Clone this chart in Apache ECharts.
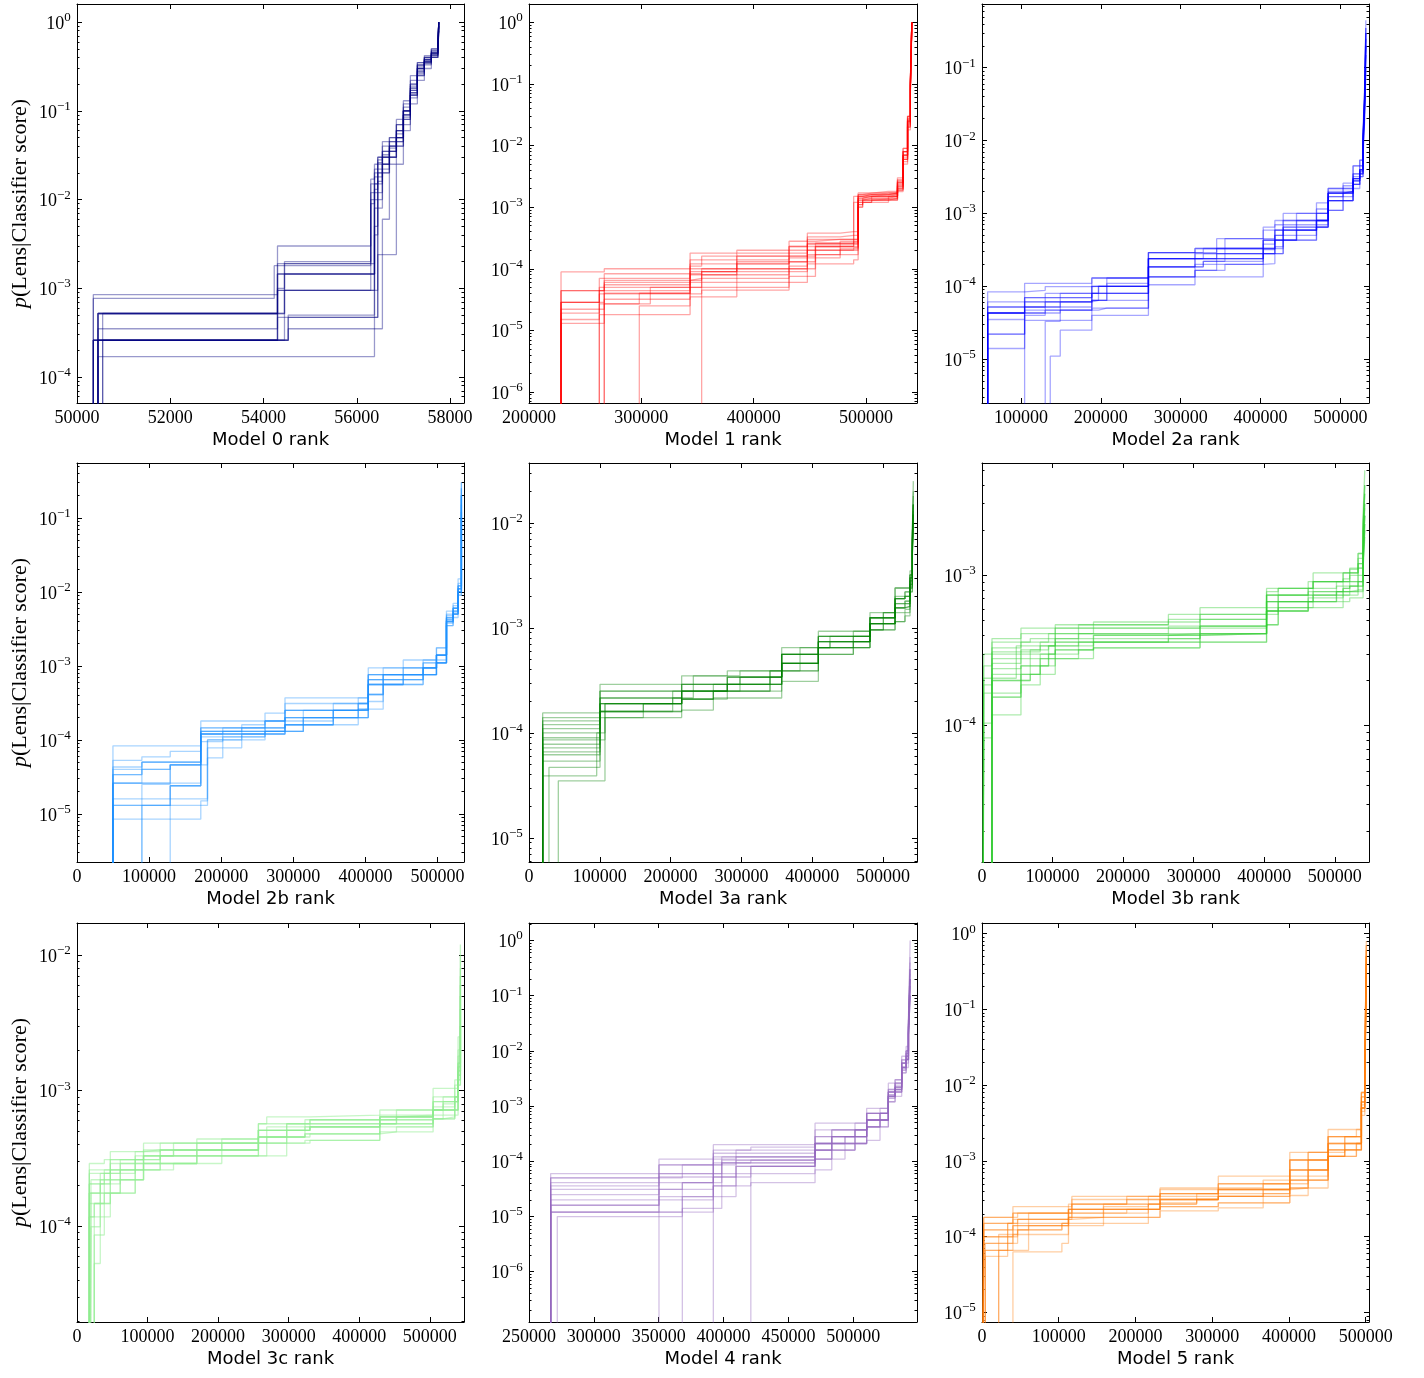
<!DOCTYPE html>
<html><head><meta charset="utf-8">
<script src="https://cdn.jsdelivr.net/npm/echarts@6/dist/echarts.min.js"></script>
<style>html,body{margin:0;padding:0;background:#fff}#c{width:1424px;height:1378px}</style>
</head><body><div id="c"></div>
<script>
// ---------------- DATA ----------------
const panelTitles = ['Model 0 rank','Model 1 rank','Model 2a rank','Model 2b rank','Model 3a rank','Model 3b rank','Model 3c rank','Model 4 rank','Model 5 rank'];
const panelColors = ['#000080','#ff0000','#0000ff','#1e90ff','#008000','#32cd32','#90ee90','#9467bd','#ff7f0e'];
const xRanges = [[50000,58300],[200000,545400],[51250,535750],[0,536800],[0,548000],[0,548500],[0,548500],[250000,549100],[0,504300]];
const yRanges = [[5.1e-5,1.6],[6.6e-7,2.0],[2.5e-6,0.75],[2.24e-6,0.55],[5.9e-6,0.0372],[1.24e-5,5.6e-3],[1.96e-5,0.0173],[1.23e-7,2.07],[7.5e-6,1.38]];
const xTicks0 = [50000,52000,54000,56000,58000];
const xTicks1 = [200000,300000,400000,500000];
const xTicks2a = [100000,200000,300000,400000,500000];
const xTicksZero = [0,100000,200000,300000,400000,500000];
const xTicks4 = [250000,300000,350000,400000,450000,500000];

// Model 0
const m0Ranks = [50250,50350,50450,50550,54230,54300,54450,54530,56300,56380,56450,56550,56700,56850,57000,57150,57300,57450,57600,57740,57760];
const m0Runs = [
 [1e-7,2.6e-4,2.6e-4,2.6e-4,2.6e-4,1.9e-3,1.9e-3,1.9e-3,1.5e-2,2.2e-2,2.8e-2,3.2e-2,4e-2,6e-2,0.1,0.17,0.3,0.36,0.45,0.55,1],
 [1e-7,1e-7,5.2e-4,5.2e-4,5.2e-4,1.45e-3,1.45e-3,1.45e-3,1.45e-3,8e-3,1.8e-2,2.5e-2,3.5e-2,5e-2,8e-2,0.2,0.33,0.4,0.5,0.6,1],
 [1e-7,7.7e-4,7.7e-4,7.7e-4,1.8e-3,1.8e-3,1.8e-3,1.8e-3,1.2e-2,2e-2,3e-2,3.5e-2,4.5e-2,7e-2,0.12,0.2,0.35,0.38,0.42,0.5,0.9],
 [1e-7,1e-7,2.6e-4,2.6e-4,2.6e-4,2.6e-4,2.6e-4,5e-4,5e-4,1.5e-2,2e-2,3e-2,3e-2,4e-2,9e-2,0.15,0.25,0.35,0.42,0.5,0.8],
 [1e-7,1e-7,1.7e-4,1.7e-4,1.7e-4,1.7e-4,1.7e-4,1.7e-4,1.7e-4,4e-3,1e-2,2.5e-2,4e-2,5e-2,0.1,0.18,0.3,0.4,0.48,0.6,1],
 [1e-7,8.5e-4,8.5e-4,8.5e-4,8.5e-4,1e-3,2e-3,2e-3,9e-3,1.5e-2,2.5e-2,4e-2,5e-2,6e-2,0.11,0.22,0.33,0.38,0.45,0.55,1],
 [1e-7,1e-7,1e-7,5.2e-4,5.2e-4,5.2e-4,9.5e-4,9.5e-4,9.5e-4,5e-3,1.2e-2,2e-2,3e-2,4.5e-2,9e-2,0.14,0.28,0.35,0.4,0.5,0.8],
 [1e-7,2.6e-4,2.6e-4,2.6e-4,2.6e-4,2.6e-4,2.6e-4,3.5e-4,3.5e-4,3.5e-4,3.5e-4,6e-3,2.5e-2,4e-2,7e-2,0.15,0.25,0.33,0.4,0.5,1],
 [1e-7,1e-7,3.5e-4,3.5e-4,3.5e-4,4.7e-4,4.7e-4,4.7e-4,4.7e-4,4.7e-4,2.4e-3,2.4e-3,2.4e-3,2.5e-2,6e-2,0.12,0.22,0.3,0.4,0.5,0.9],
 [1e-7,1e-7,5.2e-4,5.2e-4,5.2e-4,3e-3,3e-3,3e-3,1.7e-2,2.5e-2,3e-2,4.5e-2,5e-2,8e-2,0.13,0.25,0.35,0.42,0.5,0.6,1],
 [1e-7,2.6e-4,2.6e-4,2.6e-4,2.6e-4,1.45e-3,1.45e-3,1.45e-3,1.45e-3,1.2e-2,2e-2,3e-2,4e-2,5.5e-2,0.1,0.19,0.32,0.38,0.46,0.55,1],
 [1e-7,1e-7,5.2e-4,5.2e-4,5.2e-4,9.5e-4,9.5e-4,9.5e-4,1e-2,1.8e-2,2.6e-2,3.5e-2,4.5e-2,7e-2,0.1,0.16,0.3,0.37,0.44,0.52,1],
 [1e-7,1e-7,2.6e-4,2.6e-4,2.6e-4,2.6e-4,1.9e-3,1.9e-3,1.9e-3,1.3e-2,2.2e-2,3e-2,3.8e-2,6e-2,0.09,0.17,0.27,0.34,0.43,0.5,0.9],
 [1e-7,1e-7,5.2e-4,5.2e-4,5.2e-4,5.2e-4,1.45e-3,1.45e-3,1.45e-3,1e-2,1.6e-2,2.2e-2,3e-2,4.5e-2,0.08,0.15,0.26,0.36,0.44,0.55,1],
 [1e-7,2.6e-4,2.6e-4,2.6e-4,2.6e-4,9.5e-4,9.5e-4,9.5e-4,9.5e-4,9.5e-4,8e-3,2e-2,3.5e-2,5e-2,0.1,0.18,0.3,0.4,0.47,0.58,1],
 [1e-7,1e-7,1e-7,2.6e-4,2.6e-4,2.6e-4,2.6e-4,4.7e-4,4.7e-4,4.7e-4,1.5e-2,2.5e-2,3.5e-2,5e-2,0.085,0.16,0.28,0.36,0.45,0.55,1]
];

// Model 1
const m1Ranks = [200000,228500,262600,267000,298200,308000,343400,353700,385000,431500,447800,455000,477000,489000,493000,497000,505000,520000,528000,533000,537000,539500,540800];
const m1Runs = [
 [1e-8,2.85e-5,4.4e-5,4.4e-5,4.4e-5,4.4e-5,9e-5,9e-5,1.2e-4,2.3e-4,2.3e-4,2.3e-4,2.3e-4,1.2e-3,1.4e-3,1.5e-3,1.5e-3,1.5e-3,2.5e-3,7e-3,2.5e-2,0.1,1],
 [1e-8,8.9e-5,8.9e-5,1e-4,1e-4,1e-4,1.1e-4,1.6e-4,1.8e-4,1.8e-4,3.8e-4,3.8e-4,4e-4,4e-4,1.7e-3,1.7e-3,1.8e-3,1.8e-3,3e-3,9e-3,3e-2,0.12,1],
 [1e-8,1.3e-5,1.3e-5,2.7e-5,2.7e-5,5e-5,5e-5,7e-5,7e-5,1.3e-4,1.3e-4,1.7e-4,1.7e-4,1.7e-4,1.1e-3,1.3e-3,1.3e-3,1.4e-3,2e-3,6e-3,2e-2,8e-2,1],
 [1e-8,1e-8,2.7e-5,2.7e-5,4e-5,4e-5,1.8e-4,1.8e-4,2e-4,2.8e-4,2.8e-4,3e-4,3e-4,1.5e-3,1.5e-3,1.6e-3,1.6e-3,1.6e-3,2.2e-3,8e-3,2.8e-2,0.1,1],
 [1e-8,1e-8,1e-8,6.5e-5,6.5e-5,6.5e-5,7e-5,9e-5,1e-4,1.5e-4,2.6e-4,2.6e-4,2.6e-4,2.6e-4,1e-3,1.3e-3,1.35e-3,1.35e-3,1.9e-3,5.5e-3,1.8e-2,7e-2,0.8],
 [1e-8,1e-8,1e-8,1e-8,2.5e-5,2.5e-5,3.5e-5,3.5e-5,6e-5,6e-5,1e-4,2e-4,2e-4,2.2e-4,1.2e-3,1.2e-3,1.3e-3,1.5e-3,2.7e-3,8e-3,3e-2,0.1,1],
 [1e-8,1e-8,1e-8,1e-8,1e-8,1e-8,1e-8,4.5e-5,4.5e-5,1e-4,1.5e-4,1.5e-4,2e-4,2e-4,1.1e-3,1.2e-3,1.2e-3,1.3e-3,1.9e-3,6e-3,2.2e-2,9e-2,1],
 [1e-8,4.4e-5,4.4e-5,8.3e-5,8.3e-5,8.3e-5,8.3e-5,1e-4,1.6e-4,1.6e-4,3.3e-4,3.3e-4,3.5e-4,3.5e-4,1.6e-3,1.7e-3,1.7e-3,1.7e-3,2.8e-3,9e-3,3e-2,0.11,1],
 [1e-8,1.9e-5,3.9e-5,3.9e-5,3.9e-5,3.9e-5,3.9e-5,6e-5,9e-5,9e-5,1.2e-4,2.3e-4,2.3e-4,2.5e-4,1.3e-3,1.4e-3,1.4e-3,1.4e-3,2.1e-3,7e-3,2.5e-2,9e-2,1],
 [1e-8,1.5e-5,1.8e-5,1.8e-5,1.8e-5,1.8e-5,5e-5,5e-5,5e-5,7.5e-5,7.5e-5,1.2e-4,1.2e-4,1.4e-4,1e-3,1.2e-3,1.3e-3,1.3e-3,1.8e-3,5e-3,2e-2,8e-2,1],
 [1e-8,2.85e-5,7e-5,7e-5,7e-5,7e-5,1e-4,1e-4,1.6e-4,2.3e-4,3e-4,3e-4,3e-4,3e-4,1.5e-3,1.5e-3,1.6e-3,1.7e-3,2.3e-3,7e-3,2.5e-2,0.1,1],
 [1e-8,2.85e-5,2.85e-5,5.5e-5,5.5e-5,5.5e-5,8e-5,8e-5,1.3e-4,1.3e-4,2e-4,2e-4,2.8e-4,2.8e-4,1.4e-3,1.5e-3,1.5e-3,1.6e-3,2.5e-3,8e-3,2.6e-2,0.1,1],
 [1e-8,4.4e-5,4.4e-5,6e-5,6e-5,6e-5,1.4e-4,1.4e-4,1.4e-4,2e-4,2e-4,2.6e-4,2.6e-4,3e-4,1.6e-3,1.6e-3,1.7e-3,1.7e-3,2.4e-3,7e-3,2.4e-2,9e-2,1],
 [1e-8,1e-8,5e-5,5e-5,5e-5,5e-5,1.2e-4,1.2e-4,1.2e-4,1.6e-4,1.6e-4,2.3e-4,2.3e-4,2.3e-4,1.3e-3,1.3e-3,1.5e-3,1.5e-3,2e-3,6.5e-3,2.3e-2,0.1,1],
 [1e-8,2.2e-5,2.2e-5,4e-5,4e-5,4e-5,6.5e-5,8e-5,8e-5,1.1e-4,1.7e-4,1.7e-4,2.1e-4,2.1e-4,1.2e-3,1.4e-3,1.4e-3,1.5e-3,2.2e-3,6e-3,2.1e-2,8.5e-2,1],
 [1e-8,1e-8,1e-8,3.2e-5,3.2e-5,3.2e-5,6e-5,9e-5,1e-4,1e-4,2.5e-4,2.5e-4,2.5e-4,2.7e-4,1.5e-3,1.6e-3,1.6e-3,1.7e-3,2.6e-3,8e-3,2.7e-2,0.1,1]
];

// Model 2a
const m2aRanks = [51250,58300,104600,130400,136700,149200,188750,197100,207500,259600,317900,328300,345000,355400,403300,417900,428300,445000,470000,484600,503300,515800,524200,528300,530400,531800];
const m2aRuns = [
 [1e-8,2.2e-5,4.3e-5,4.7e-5,4.7e-5,4.7e-5,6.4e-5,6.4e-5,6.4e-5,1.85e-4,2.4e-4,2.4e-4,2.4e-4,2.4e-4,3.2e-4,5.9e-4,5.9e-4,5.9e-4,8e-4,1.9e-3,1.9e-3,3.5e-3,4.5e-3,1e-2,5e-2,0.45],
 [1e-8,4.3e-5,1.1e-4,1.1e-4,1.1e-4,1.1e-4,1.3e-4,1.3e-4,1.3e-4,2.9e-4,2.9e-4,3.3e-4,3.3e-4,4.5e-4,4.5e-4,7e-4,1e-3,1e-3,1.15e-3,2.2e-3,2.2e-3,4.5e-3,5.4e-3,1.4e-2,6e-2,0.3],
 [1e-8,8.4e-5,8.8e-5,9.9e-5,9.9e-5,9.9e-5,1e-4,1e-4,1.3e-4,2.4e-4,2.4e-4,2.4e-4,2.8e-4,2.8e-4,4.3e-4,4.3e-4,8e-4,8e-4,1e-3,1.9e-3,2.4e-3,3e-3,4e-3,1.1e-2,4e-2,0.2],
 [1e-8,6.1e-5,7e-5,8e-5,8e-5,8e-5,8e-5,1e-4,1e-4,2.4e-4,2.4e-4,2.8e-4,3.3e-4,3.3e-4,5.9e-4,5.9e-4,6.5e-4,8e-4,8e-4,1.5e-3,1.9e-3,2.8e-3,3.5e-3,8e-3,3e-2,0.15],
 [1e-8,1.4e-5,3.4e-5,3.4e-5,3.4e-5,3.4e-5,5e-5,5e-5,5e-5,1.35e-4,1.65e-4,1.65e-4,2e-4,2e-4,2.8e-4,3.5e-4,5.9e-4,5.9e-4,6.5e-4,1.1e-3,1.5e-3,2.5e-3,3.2e-3,7e-3,2.5e-2,0.1],
 [1e-8,5.2e-5,5.2e-5,6.1e-5,6.1e-5,6.1e-5,6.4e-5,6.4e-5,8e-5,1.85e-4,1.85e-4,2.2e-4,2.2e-4,2.4e-4,2.8e-4,4.3e-4,4.3e-4,5.9e-4,1e-3,1.9e-3,2e-3,3.2e-3,4e-3,1e-2,3.5e-2,0.25],
 [1e-8,1e-8,4e-5,4.7e-5,4.7e-5,4.7e-5,4.7e-5,5e-5,5e-5,1.05e-4,1.65e-4,1.65e-4,1.65e-4,2e-4,2.05e-4,2.8e-4,4.3e-4,4.3e-4,6.5e-4,1.1e-3,1.5e-3,2.2e-3,3.2e-3,6e-3,2e-2,0.1],
 [1e-8,1e-8,1e-8,1e-8,1.1e-5,2.5e-5,4e-5,4e-5,4e-5,1.35e-4,1.35e-4,1.35e-4,1.35e-4,1.35e-4,2.8e-4,2.8e-4,4.3e-4,4.3e-4,8e-4,1.5e-3,1.5e-3,2.5e-3,3.5e-3,8e-3,3e-2,0.2],
 [1e-8,1e-8,1e-8,3.3e-5,3.3e-5,6.1e-5,1.3e-4,1.3e-4,1.3e-4,2.9e-4,3.3e-4,3.3e-4,4.5e-4,4.5e-4,6.5e-4,8e-4,8e-4,1e-3,1.4e-3,2.2e-3,2.6e-3,4.5e-3,5.4e-3,1.2e-2,5e-2,0.35],
 [1e-8,4.3e-5,5.2e-5,6.1e-5,6.1e-5,6.1e-5,8e-5,8e-5,1e-4,2.4e-4,3.3e-4,3.3e-4,3.3e-4,3.3e-4,3.3e-4,5e-4,5e-4,6.5e-4,8e-4,1.9e-3,2e-3,3e-3,3.8e-3,9e-3,4e-2,0.3],
 [1e-8,4.3e-5,7e-5,7e-5,7e-5,8e-5,1e-4,1e-4,1e-4,2.4e-4,2.8e-4,2.8e-4,2.8e-4,3.3e-4,4.3e-4,5.9e-4,7e-4,7e-4,8e-4,1.5e-3,2e-3,3e-3,4e-3,1e-2,4e-2,0.3],
 [1e-8,4.3e-5,6.1e-5,6.1e-5,6.1e-5,7e-5,8e-5,8e-5,8e-5,1.85e-4,2.4e-4,2.4e-4,2.8e-4,2.8e-4,3.3e-4,4.3e-4,5.9e-4,6.5e-4,8e-4,1.9e-3,1.9e-3,2.8e-3,3.8e-3,9e-3,3.5e-2,0.2],
 [1e-8,2.2e-5,5.2e-5,5.2e-5,5.2e-5,5.2e-5,6.4e-5,8e-5,8e-5,1.35e-4,1.85e-4,2.2e-4,2.2e-4,2.2e-4,2.8e-4,3.3e-4,4.3e-4,5e-4,6.5e-4,1.5e-3,1.5e-3,2.5e-3,3.5e-3,8e-3,3e-2,0.15],
 [1e-8,3.5e-5,4.7e-5,5.2e-5,5.2e-5,6.1e-5,1e-4,1e-4,1.1e-4,2.9e-4,2.9e-4,2.9e-4,3.3e-4,3.3e-4,4.3e-4,5e-4,6.5e-4,8e-4,1e-3,2e-3,2.2e-3,3.5e-3,4.5e-3,1.1e-2,4.5e-2,0.35],
 [1e-8,5.2e-5,6.1e-5,7e-5,7e-5,7e-5,8e-5,1e-4,1e-4,2.4e-4,2.4e-4,2.4e-4,2.4e-4,2.8e-4,3.8e-4,4.3e-4,5.9e-4,5.9e-4,7e-4,1.7e-3,1.9e-3,3e-3,4e-3,1e-2,4e-2,0.25],
 [1e-8,4.3e-5,4.3e-5,4.3e-5,4.3e-5,4.7e-5,6.4e-5,6.4e-5,1e-4,1.85e-4,2e-4,2e-4,2.4e-4,2.4e-4,3.3e-4,4.3e-4,4.3e-4,5.9e-4,6.5e-4,1.7e-3,1.7e-3,2.8e-3,3.6e-3,9e-3,3.5e-2,0.2]
];

// Model 2b
const m2bRanks = [0,49860,90000,129300,171700,181000,202200,228500,260800,288500,313900,355500,390100,404000,424700,452500,480100,498600,512500,521700,528600,533200];
const m2bRuns = [
 [1e-8,2.6e-5,2.6e-5,2.6e-5,1.2e-4,1.2e-4,1.2e-4,1.45e-4,1.45e-4,2e-4,2e-4,2.5e-4,2.5e-4,7.6e-4,7.6e-4,7.6e-4,9.4e-4,1.4e-3,4.4e-3,6e-3,1.2e-2,0.3],
 [1e-8,1.3e-5,1.3e-5,2.4e-5,9.5e-5,9.5e-5,1.1e-4,1.1e-4,1.3e-4,1.6e-4,2e-4,2e-4,2.6e-4,5.6e-4,5.6e-4,7.6e-4,7.6e-4,1.1e-3,3.5e-3,5e-3,1e-2,0.15],
 [1e-8,8.3e-5,8.3e-5,8.3e-5,1.8e-4,1.8e-4,1.8e-4,1.8e-4,2.3e-4,3.7e-4,3.7e-4,3.7e-4,3.7e-4,9.4e-4,9.4e-4,1.2e-3,1.2e-3,1.75e-3,5.5e-3,7e-3,1.5e-2,0.3],
 [1e-8,4.3e-5,5e-5,5e-5,1.45e-4,1.45e-4,1.45e-4,1.45e-4,1.8e-4,2.5e-4,2.5e-4,3.1e-4,3.1e-4,6.5e-4,9.4e-4,9.4e-4,1.1e-3,1.4e-3,4.5e-3,6e-3,1.1e-2,0.2],
 [1e-8,5.3e-5,5.9e-5,7e-5,1.3e-4,1.3e-4,1.3e-4,1.3e-4,1.8e-4,2.5e-4,2.5e-4,2.5e-4,3.1e-4,5.6e-4,7.6e-4,7.6e-4,9.4e-4,1.4e-3,4e-3,5.5e-3,1.1e-2,0.2],
 [1e-8,1e-8,2.5e-5,4.6e-5,1.2e-4,1.2e-4,1.2e-4,1.2e-4,1.3e-4,1.6e-4,1.6e-4,2e-4,2.6e-4,4.1e-4,5.6e-4,7.6e-4,7.6e-4,1.1e-3,3.8e-3,5e-3,9e-3,0.1],
 [1e-8,3.4e-5,4e-5,4.6e-5,4.6e-5,1e-4,1e-4,1.2e-4,1.2e-4,1.3e-4,1.6e-4,1.6e-4,2e-4,3.3e-4,5.6e-4,5.6e-4,7.6e-4,1.1e-3,4e-3,5e-3,1e-2,0.12],
 [1e-8,8.5e-6,8.5e-6,8.5e-6,1.5e-5,5.7e-5,7.8e-5,1e-4,1.3e-4,1.6e-4,1.6e-4,2e-4,2e-4,2.6e-4,5.6e-4,5.6e-4,7.6e-4,1.1e-3,3.5e-3,4.5e-3,9e-3,0.1],
 [1e-8,1e-8,1e-8,2.4e-5,1.2e-4,1.2e-4,1.45e-4,1.45e-4,1.8e-4,3.1e-4,3.1e-4,3.1e-4,3.7e-4,7.6e-4,7.6e-4,9.4e-4,1.2e-3,1.75e-3,5e-3,6.5e-3,1.3e-2,0.25],
 [1e-8,1.6e-5,1.6e-5,1.6e-5,1.6e-5,7.8e-5,1e-4,1.2e-4,1.2e-4,1.3e-4,2e-4,2e-4,2.5e-4,4.1e-4,6.5e-4,6.5e-4,9.4e-4,1.4e-3,4.2e-3,5.5e-3,1.1e-2,0.2],
 [1e-8,2.6e-5,5e-5,5e-5,1.3e-4,1.3e-4,1.3e-4,1.3e-4,1.45e-4,2e-4,2.5e-4,2.5e-4,3.1e-4,6.5e-4,7.6e-4,9.4e-4,9.4e-4,1.4e-3,4.5e-3,6e-3,1.2e-2,0.25],
 [1e-8,4e-5,4e-5,4.6e-5,1.1e-4,1.1e-4,1.2e-4,1.2e-4,1.3e-4,1.8e-4,1.8e-4,2.5e-4,2.5e-4,5.6e-4,6.5e-4,6.5e-4,9.4e-4,1.1e-3,4e-3,5e-3,1e-2,0.15],
 [1e-8,2.6e-5,2.6e-5,4.6e-5,1.45e-4,1.45e-4,1.45e-4,1.6e-4,1.8e-4,2.5e-4,2.5e-4,2.5e-4,3.1e-4,7.6e-4,7.6e-4,7.6e-4,1.1e-3,1.4e-3,4.8e-3,6e-3,1.2e-2,0.2],
 [1e-8,1.3e-5,1.3e-5,1.3e-5,1.3e-5,1e-4,1.1e-4,1.1e-4,1.2e-4,1.3e-4,1.6e-4,2e-4,2e-4,4.1e-4,5.6e-4,6.5e-4,7.6e-4,1.1e-3,3.8e-3,5e-3,1e-2,0.12],
 [1e-8,3.4e-5,5e-5,5e-5,1.2e-4,1.2e-4,1.3e-4,1.45e-4,1.45e-4,2e-4,2e-4,2.5e-4,2.6e-4,6.5e-4,6.5e-4,7.6e-4,9.4e-4,1.4e-3,4.2e-3,5.5e-3,1.1e-2,0.2],
 [1e-8,1e-8,1.3e-5,2.4e-5,1.3e-4,1.3e-4,1.3e-4,1.3e-4,1.3e-4,1.6e-4,2e-4,2.5e-4,2.5e-4,5.6e-4,7.6e-4,7.6e-4,9.4e-4,1.2e-3,4e-3,5.2e-3,1e-2,0.18]
];

// Model 3a
const m3aRanks = [0,19300,28200,41400,78200,95600,100300,107300,161500,202900,215600,232100,260400,280100,298000,340400,356900,382800,408700,425100,458100,481600,500500,517000,531000,538100,541400,542800];
const m3aRuns = [
 [1e-8,1.55e-4,1.55e-4,1.55e-4,1.55e-4,1.55e-4,2.9e-4,2.9e-4,2.9e-4,2.9e-4,3.5e-4,3.5e-4,3.5e-4,3.9e-4,3.9e-4,3.9e-4,6.5e-4,6.5e-4,9.3e-4,9.3e-4,9.3e-4,1.4e-3,1.4e-3,2.4e-3,2.4e-3,3.5e-3,8e-3,2.5e-2],
 [1e-8,1.2e-4,1.2e-4,1.2e-4,1.2e-4,1.2e-4,2.5e-4,2.5e-4,2.5e-4,2.5e-4,2.9e-4,2.9e-4,2.9e-4,3.4e-4,3.4e-4,3.4e-4,5.6e-4,5.6e-4,8.3e-4,8.3e-4,8.3e-4,1.25e-3,1.25e-3,1.9e-3,2e-3,3e-3,7e-3,1.5e-2],
 [1e-8,1e-4,1e-4,1e-4,1e-4,1e-4,2.15e-4,2.15e-4,2.15e-4,2.15e-4,2.5e-4,2.5e-4,2.5e-4,2.9e-4,2.9e-4,2.9e-4,4.6e-4,4.6e-4,7.4e-4,7.4e-4,7.4e-4,1.1e-3,1.1e-3,1.55e-3,1.7e-3,2.5e-3,6e-3,1.2e-2],
 [1e-8,8.6e-5,8.6e-5,8.6e-5,8.6e-5,8.6e-5,8.6e-5,1.9e-4,1.9e-4,1.9e-4,2.1e-4,2.1e-4,2.5e-4,2.5e-4,2.5e-4,3.9e-4,3.9e-4,3.9e-4,6.5e-4,6.5e-4,6.5e-4,9.6e-4,1.1e-3,1.55e-3,1.6e-3,2.6e-3,6e-3,1.2e-2],
 [1e-8,7.2e-5,7.2e-5,7.2e-5,7.2e-5,7.2e-5,1.6e-4,1.6e-4,1.6e-4,1.6e-4,2.1e-4,2.1e-4,2.1e-4,2.5e-4,2.5e-4,2.5e-4,3.9e-4,3.9e-4,5.6e-4,5.6e-4,6.5e-4,9.6e-4,9.6e-4,1.15e-3,1.4e-3,2.2e-3,5e-3,9e-3],
 [1e-8,6.2e-5,6.2e-5,6.2e-5,6.2e-5,1e-4,1e-4,1.9e-4,1.9e-4,1.9e-4,2.5e-4,2.5e-4,2.5e-4,2.9e-4,2.9e-4,3.4e-4,4.6e-4,4.6e-4,7.4e-4,7.4e-4,8.3e-4,1.25e-3,1.25e-3,1.9e-3,2e-3,3e-3,7e-3,1.5e-2],
 [1e-8,5.4e-5,5.4e-5,5.4e-5,5.4e-5,5.4e-5,1.4e-4,1.4e-4,1.6e-4,1.6e-4,2.1e-4,2.1e-4,2.9e-4,2.9e-4,3.4e-4,3.4e-4,5.6e-4,5.6e-4,6.5e-4,7.4e-4,7.4e-4,1.1e-3,1.1e-3,1.55e-3,1.6e-3,2.4e-3,5e-3,1e-2],
 [1e-8,1e-8,4.7e-5,4.7e-5,4.7e-5,4.7e-5,1.6e-4,1.6e-4,1.9e-4,1.9e-4,2.5e-4,2.5e-4,2.5e-4,2.5e-4,2.5e-4,2.9e-4,4.6e-4,4.6e-4,6.5e-4,6.5e-4,7.4e-4,1.1e-3,1.25e-3,1.9e-3,2.2e-3,3.2e-3,8e-3,2e-2],
 [1e-8,1e-8,1e-8,3.5e-5,3.5e-5,3.5e-5,3.5e-5,1.4e-4,1.4e-4,1.4e-4,1.65e-4,1.65e-4,2.15e-4,2.15e-4,2.15e-4,2.15e-4,3.1e-4,3.1e-4,5.6e-4,5.6e-4,6.5e-4,9.6e-4,9.6e-4,1.15e-3,1.3e-3,2.2e-3,5e-3,8e-3],
 [1e-8,3.9e-5,3.9e-5,3.9e-5,3.9e-5,6.2e-5,1.9e-4,1.9e-4,1.9e-4,2.15e-4,2.5e-4,2.9e-4,2.9e-4,3.4e-4,3.4e-4,3.4e-4,5.6e-4,5.6e-4,8.3e-4,8.3e-4,8.3e-4,1.25e-3,1.4e-3,2.4e-3,2.4e-3,3.2e-3,7e-3,1.5e-2],
 [1e-8,1.4e-4,1.4e-4,1.4e-4,1.4e-4,1.4e-4,2.15e-4,2.15e-4,2.15e-4,2.5e-4,2.9e-4,2.9e-4,2.9e-4,2.9e-4,3.4e-4,3.4e-4,5.6e-4,5.6e-4,7.4e-4,8.3e-4,8.3e-4,1.25e-3,1.25e-3,1.9e-3,2e-3,3e-3,7e-3,1.5e-2],
 [1e-8,1.1e-4,1.1e-4,1.1e-4,1.1e-4,1.1e-4,1.9e-4,1.9e-4,1.9e-4,1.9e-4,2.5e-4,2.5e-4,2.5e-4,2.9e-4,2.9e-4,2.9e-4,4.6e-4,5.6e-4,7.4e-4,7.4e-4,8.3e-4,1.1e-3,1.25e-3,1.7e-3,1.8e-3,2.8e-3,6.5e-3,1.3e-2],
 [1e-8,9e-5,9e-5,9e-5,9e-5,9e-5,1.6e-4,1.6e-4,1.9e-4,1.9e-4,2.5e-4,2.5e-4,2.5e-4,3.4e-4,3.4e-4,3.9e-4,4.6e-4,4.6e-4,6.5e-4,6.5e-4,7.4e-4,1.1e-3,1.1e-3,1.55e-3,1.7e-3,2.6e-3,6e-3,1.2e-2],
 [1e-8,6.6e-5,6.6e-5,6.6e-5,6.6e-5,6.6e-5,1.6e-4,1.6e-4,1.6e-4,1.9e-4,2.1e-4,2.1e-4,2.5e-4,2.5e-4,2.9e-4,2.9e-4,3.9e-4,4.6e-4,6.5e-4,6.5e-4,7.4e-4,9.6e-4,1.1e-3,1.4e-3,1.5e-3,2.4e-3,5.5e-3,1e-2],
 [1e-8,1.3e-4,1.3e-4,1.3e-4,1.3e-4,1.3e-4,2.5e-4,2.5e-4,2.5e-4,2.5e-4,2.9e-4,3.5e-4,3.5e-4,3.5e-4,3.9e-4,3.9e-4,5.6e-4,6.5e-4,8.3e-4,8.3e-4,9.3e-4,1.25e-3,1.4e-3,2e-3,2.2e-3,3.2e-3,7.5e-3,1.8e-2],
 [1e-8,7.8e-5,7.8e-5,7.8e-5,7.8e-5,7.8e-5,1.9e-4,1.9e-4,1.9e-4,2.15e-4,2.15e-4,2.5e-4,2.5e-4,2.9e-4,2.9e-4,3.4e-4,4.6e-4,4.6e-4,6.5e-4,7.4e-4,7.4e-4,1.1e-3,1.1e-3,1.7e-3,1.8e-3,2.8e-3,6e-3,1.2e-2]
];

// Model 3b
const m3bRanks = [0,2400,14150,48600,55200,68400,82500,94300,103800,136800,158000,264200,309000,403300,419800,462300,469300,502400,511800,521200,533000,540100,542500];
const m3bRuns = [
 [1e-8,2.07e-4,2.07e-4,3.4e-4,3.4e-4,3.4e-4,3.4e-4,3.4e-4,4.1e-4,4.1e-4,4.46e-4,4.46e-4,5.1e-4,7.4e-4,7.4e-4,7.4e-4,9.1e-4,9.1e-4,9.1e-4,1.12e-3,1.12e-3,2e-3,4e-3],
 [1e-8,1.04e-4,2.4e-4,2.4e-4,3e-4,3e-4,3e-4,3.4e-4,3.6e-4,3.6e-4,4e-4,4e-4,4.1e-4,6.7e-4,6.7e-4,7.8e-4,7.8e-4,8.5e-4,8.5e-4,9.1e-4,9.1e-4,1.5e-3,2.5e-3],
 [1e-8,1e-8,3.6e-4,3.6e-4,3.6e-4,3.8e-4,3.8e-4,3.8e-4,4.7e-4,4.7e-4,4.9e-4,4.9e-4,6.1e-4,8.2e-4,8.2e-4,8.2e-4,1.04e-3,1.04e-3,1.04e-3,1.04e-3,1.4e-3,2.5e-3,5e-3],
 [1e-8,8.3e-5,1.55e-4,1.55e-4,2.2e-4,2.2e-4,2.5e-4,2.5e-4,3.2e-4,3.2e-4,3.6e-4,3.6e-4,4.1e-4,5.8e-4,5.8e-4,6.7e-4,6.7e-4,7.8e-4,7.8e-4,8.5e-4,8.5e-4,1.3e-3,2.2e-3],
 [1e-8,1e-8,3.1e-4,3.1e-4,3.1e-4,3.1e-4,3.4e-4,3.4e-4,3.6e-4,4.1e-4,4.1e-4,4.1e-4,4.6e-4,6.7e-4,7.4e-4,7.4e-4,7.8e-4,7.8e-4,9.1e-4,9.1e-4,1.12e-3,1.8e-3,3e-3],
 [1e-8,1.65e-4,2e-4,2e-4,2e-4,2.5e-4,2.5e-4,3e-4,3e-4,3.6e-4,3.6e-4,3.6e-4,3.6e-4,4.7e-4,6.1e-4,6.1e-4,6.7e-4,6.7e-4,7.8e-4,7.8e-4,7.8e-4,1.2e-3,2e-3],
 [1e-8,1e-8,1.18e-4,1.18e-4,1.87e-4,1.87e-4,2.2e-4,2.2e-4,2.8e-4,2.8e-4,3.3e-4,3.3e-4,3.6e-4,4.7e-4,5.8e-4,6.1e-4,6.1e-4,6.1e-4,6.7e-4,7.1e-4,7.1e-4,1.1e-3,1.8e-3],
 [1e-8,3e-4,3e-4,3e-4,4.46e-4,4.46e-4,4.46e-4,4.46e-4,4.46e-4,4.7e-4,4.7e-4,5.5e-4,5.5e-4,7.4e-4,8.2e-4,9.1e-4,9.1e-4,9.1e-4,1.04e-3,1.04e-3,1.4e-3,2.2e-3,3.5e-3],
 [1e-8,1e-8,2e-4,2e-4,2e-4,2.2e-4,2.8e-4,2.8e-4,2.8e-4,3.2e-4,3.3e-4,3.3e-4,4.6e-4,5.8e-4,5.8e-4,6.7e-4,7.4e-4,7.4e-4,7.8e-4,8e-4,9.1e-4,1.4e-3,2.5e-3],
 [1e-8,1e-8,1.55e-4,1.55e-4,2.5e-4,2.5e-4,2.5e-4,3e-4,3.2e-4,3.2e-4,3.6e-4,4e-4,4.1e-4,5.8e-4,6.7e-4,6.7e-4,7.1e-4,7.1e-4,7.4e-4,7.4e-4,8e-4,1.2e-3,2.2e-3],
 [1e-8,1e-8,2.6e-4,2.6e-4,3.2e-4,3.2e-4,3.6e-4,3.6e-4,3.8e-4,4.1e-4,4.1e-4,4.46e-4,4.6e-4,6.7e-4,7.4e-4,8.2e-4,8.2e-4,9.1e-4,9.1e-4,1e-3,1.2e-3,1.8e-3,3e-3],
 [1e-8,1e-8,2.2e-4,2.2e-4,2.5e-4,2.8e-4,3e-4,3e-4,3.4e-4,3.6e-4,3.6e-4,3.8e-4,4.1e-4,5.8e-4,6.7e-4,6.7e-4,7.4e-4,7.8e-4,8.2e-4,8.5e-4,9.1e-4,1.3e-3,2.5e-3],
 [1e-8,1.87e-4,3.3e-4,3.3e-4,3.6e-4,3.6e-4,3.6e-4,4.1e-4,4.1e-4,4.46e-4,4.46e-4,4.6e-4,5.1e-4,7.4e-4,7.4e-4,8.2e-4,9.1e-4,9.1e-4,9.5e-4,1.04e-3,1.2e-3,2e-3,3.5e-3],
 [1e-8,1e-8,2.8e-4,2.8e-4,2.8e-4,3.2e-4,3.2e-4,3.4e-4,3.8e-4,3.8e-4,4e-4,4.1e-4,4.46e-4,6.1e-4,6.7e-4,7.1e-4,7.4e-4,7.8e-4,8.2e-4,8.5e-4,1e-3,1.5e-3,2.8e-3],
 [1e-8,1e-8,1.65e-4,1.65e-4,2.2e-4,2.2e-4,2.8e-4,2.8e-4,3.4e-4,3.4e-4,3.8e-4,3.8e-4,4.1e-4,5.5e-4,6.1e-4,6.7e-4,6.7e-4,7.4e-4,7.4e-4,7.8e-4,8.5e-4,1.2e-3,2e-3],
 [1e-8,2.5e-4,3.8e-4,3.8e-4,4.1e-4,4.1e-4,4.1e-4,4.1e-4,4.46e-4,4.46e-4,4.7e-4,5.1e-4,5.5e-4,7.8e-4,8.2e-4,8.2e-4,9.1e-4,9.1e-4,1.04e-3,1.1e-3,1.3e-3,2.2e-3,4e-3]
];

// Model 3c
const m3cRanks = [0,17450,19800,24500,33000,38700,47200,61300,82500,94300,117900,136800,169800,205200,257100,268900,297200,323100,330200,429200,452800,504700,518900,535400,540100,543400];
const m3cRuns = [
 [1e-8,2.9e-4,2.9e-4,2.9e-4,2.9e-4,3.1e-4,3.1e-4,3.1e-4,3.1e-4,4.1e-4,4.1e-4,4.1e-4,4.4e-4,4.4e-4,5.7e-4,6.4e-4,6.4e-4,6.4e-4,6.6e-4,7.2e-4,7.2e-4,1.04e-3,1.04e-3,1.2e-3,2.5e-3,1.2e-2],
 [1e-8,2.05e-4,2.05e-4,2.05e-4,2.45e-4,2.45e-4,3.55e-4,3.55e-4,3.55e-4,3.65e-4,3.65e-4,3.65e-4,3.65e-4,4.1e-4,5.1e-4,5.1e-4,5.1e-4,5.4e-4,6.1e-4,6.4e-4,7.2e-4,9e-4,9e-4,1.1e-3,1.8e-3,8e-3],
 [1e-8,1.47e-4,1.47e-4,1.47e-4,1.47e-4,2.2e-4,2.2e-4,2.6e-4,2.6e-4,3.3e-4,3.3e-4,3.3e-4,3.65e-4,3.65e-4,4.55e-4,4.55e-4,5.1e-4,5.1e-4,5.4e-4,5.7e-4,6.4e-4,7.2e-4,7.2e-4,9e-4,1.5e-3,5e-3],
 [1e-8,1e-8,1.75e-4,1.75e-4,1.75e-4,1.75e-4,2.6e-4,2.6e-4,3.1e-4,3.1e-4,3.3e-4,3.65e-4,3.65e-4,3.65e-4,4.1e-4,4.55e-4,4.55e-4,4.8e-4,4.8e-4,5.7e-4,5.7e-4,6.2e-4,6.2e-4,7.2e-4,1.2e-3,3e-3],
 [1e-8,1.17e-4,1.17e-4,1.17e-4,1.17e-4,1.17e-4,1.75e-4,1.75e-4,2.6e-4,2.9e-4,2.9e-4,2.9e-4,3.3e-4,3.3e-4,4.1e-4,4.1e-4,4.55e-4,4.55e-4,4.8e-4,4.96e-4,4.96e-4,6.2e-4,6.2e-4,6.6e-4,1.1e-3,2.5e-3],
 [1e-8,1e-8,1e-8,8.6e-5,8.6e-5,1.47e-4,2.2e-4,2.2e-4,2.6e-4,2.6e-4,2.9e-4,2.9e-4,3.3e-4,3.3e-4,3.3e-4,4.1e-4,4.1e-4,4.3e-4,4.3e-4,5.7e-4,5.7e-4,7.2e-4,7.2e-4,8.3e-4,1.4e-3,6e-3],
 [1e-8,2.45e-4,2.45e-4,2.45e-4,2.45e-4,2.45e-4,3.1e-4,3.1e-4,3.55e-4,3.55e-4,4.1e-4,4.1e-4,4.1e-4,4.4e-4,5.7e-4,5.7e-4,5.7e-4,6.1e-4,6.1e-4,6.6e-4,6.6e-4,8.3e-4,9e-4,1.04e-3,2e-3,1e-2],
 [1e-8,1e-8,9.9e-5,9.9e-5,1.75e-4,1.75e-4,1.75e-4,2.2e-4,2.2e-4,2.9e-4,3.3e-4,3.3e-4,3.3e-4,3.65e-4,4.55e-4,4.55e-4,5.1e-4,5.1e-4,5.4e-4,6.4e-4,6.4e-4,7.2e-4,8e-4,8.3e-4,1.3e-3,4e-3],
 [1e-8,1.75e-4,1.75e-4,1.75e-4,2.05e-4,2.05e-4,2.05e-4,2.6e-4,3.1e-4,3.1e-4,3.65e-4,3.65e-4,4.1e-4,4.1e-4,5.1e-4,5.1e-4,5.7e-4,5.7e-4,5.7e-4,6.1e-4,6.4e-4,8.3e-4,8.3e-4,9e-4,1.6e-3,7e-3],
 [1e-8,1e-8,1e-8,5.3e-5,1.47e-4,1.47e-4,1.75e-4,1.75e-4,2.2e-4,2.6e-4,2.6e-4,2.9e-4,2.9e-4,3.3e-4,3.3e-4,3.3e-4,4.1e-4,4.1e-4,4.3e-4,4.96e-4,5.4e-4,6.2e-4,6.4e-4,7.2e-4,1.1e-3,3e-3],
 [1e-8,2.6e-4,2.6e-4,2.6e-4,2.6e-4,2.6e-4,2.9e-4,3.1e-4,3.1e-4,3.65e-4,3.65e-4,4.1e-4,4.1e-4,4.1e-4,5.1e-4,5.1e-4,5.7e-4,5.7e-4,6.1e-4,6.4e-4,6.6e-4,7.2e-4,8.3e-4,9e-4,1.6e-3,6e-3],
 [1e-8,1.75e-4,1.75e-4,1.75e-4,2.2e-4,2.2e-4,2.6e-4,2.9e-4,2.9e-4,3.3e-4,3.3e-4,3.65e-4,3.65e-4,3.65e-4,4.55e-4,4.55e-4,4.55e-4,5.1e-4,5.4e-4,5.7e-4,6.1e-4,6.6e-4,7.2e-4,8.3e-4,1.3e-3,4e-3],
 [1e-8,1e-8,2.2e-4,2.2e-4,2.2e-4,2.6e-4,2.6e-4,2.9e-4,3.3e-4,3.3e-4,3.65e-4,3.65e-4,4.1e-4,4.1e-4,5.1e-4,5.4e-4,5.4e-4,5.7e-4,5.7e-4,6.4e-4,6.4e-4,7.6e-4,8.3e-4,9e-4,1.5e-3,5e-3],
 [1e-8,1.17e-4,1.17e-4,1.47e-4,1.47e-4,1.75e-4,1.75e-4,2.2e-4,2.2e-4,2.6e-4,2.9e-4,2.9e-4,3.3e-4,3.3e-4,4.1e-4,4.1e-4,4.55e-4,4.8e-4,4.8e-4,5.4e-4,5.4e-4,6.2e-4,6.6e-4,7.2e-4,1.2e-3,3e-3],
 [1e-8,1e-8,1e-8,1.47e-4,2.05e-4,2.05e-4,2.45e-4,2.45e-4,2.9e-4,3.3e-4,3.3e-4,3.3e-4,3.65e-4,3.65e-4,4.55e-4,5.1e-4,5.1e-4,5.1e-4,5.4e-4,6.1e-4,6.1e-4,7.2e-4,7.6e-4,8.3e-4,1.4e-3,5e-3],
 [1e-8,2.05e-4,2.05e-4,2.05e-4,2.05e-4,2.45e-4,2.45e-4,2.6e-4,2.6e-4,2.9e-4,3.3e-4,3.3e-4,3.65e-4,4.1e-4,4.1e-4,4.55e-4,5.1e-4,5.4e-4,5.4e-4,6.1e-4,6.4e-4,7.2e-4,7.2e-4,9e-4,1.4e-3,7e-3]
];

// Model 4
const m4Ranks = [250000,266700,271800,350200,368200,392100,398600,409600,421000,470500,483400,493600,501300,510300,520600,527000,532200,537300,540700,542500,543800];
const m4Runs = [
 [1e-9,1.2e-5,1.2e-5,1.2e-5,2.3e-5,1.4e-4,1.4e-4,1.4e-4,1.4e-4,2.1e-4,2.8e-4,2.8e-4,3.7e-4,7.4e-4,7.4e-4,1.5e-3,3e-3,6e-3,1e-2,3e-2,1],
 [1e-9,6e-5,6e-5,1.1e-4,1.1e-4,1.1e-4,1.1e-4,1.6e-4,1.8e-4,4.9e-4,4.9e-4,4.9e-4,4.9e-4,9.1e-4,9.1e-4,2.6e-3,3e-3,8e-3,1.2e-2,4e-2,0.5],
 [1e-9,4.1e-5,4.1e-5,8.6e-5,8.6e-5,2e-4,2e-4,2e-4,2e-4,2.8e-4,3.7e-4,3.7e-4,3.7e-4,5.6e-4,7.4e-4,1.8e-3,2.2e-3,5e-3,7e-3,2.5e-2,0.2],
 [1e-9,3.1e-5,3.1e-5,6e-5,6e-5,9.4e-5,9.4e-5,9.4e-5,1.05e-4,1.6e-4,2.1e-4,2.1e-4,2.8e-4,5.6e-4,5.6e-4,1.5e-3,2e-3,5e-3,7e-3,2e-2,0.1],
 [1e-9,1e-9,1e-5,1e-5,4.1e-5,5.2e-5,5.2e-5,5.2e-5,8.1e-5,1.1e-4,1.6e-4,2.1e-4,2.1e-4,4.2e-4,4.2e-4,1.2e-3,1.8e-3,4e-3,6e-3,2e-2,0.1],
 [1e-9,2e-5,2e-5,4.1e-5,4.1e-5,1.2e-4,1.2e-4,1.2e-4,1.2e-4,3.7e-4,3.7e-4,3.7e-4,4.9e-4,7.4e-4,9.1e-4,2e-3,2.6e-3,6.9e-3,1e-2,3e-2,0.3],
 [1e-9,5e-5,5e-5,5e-5,8.6e-5,8.6e-5,9.4e-5,1.05e-4,1.05e-4,1.6e-4,2.8e-4,2.8e-4,2.8e-4,4.2e-4,5.6e-4,1.5e-3,2e-3,5e-3,8e-3,2.5e-2,0.2],
 [1e-9,1e-9,1e-9,3.1e-5,3.1e-5,5.2e-5,5.2e-5,9.4e-5,9.4e-5,2.1e-4,2.1e-4,2.8e-4,2.8e-4,5.6e-4,5.6e-4,1.4e-3,1.8e-3,4.5e-3,6.9e-3,2e-2,0.1],
 [1e-9,1e-9,1e-9,1e-9,1e-9,3.6e-5,3.6e-5,3.6e-5,6e-5,1.1e-4,1.6e-4,1.6e-4,2.1e-4,2.4e-4,4.2e-4,1.2e-3,1.5e-3,4e-3,5e-3,1.8e-2,0.1],
 [1e-9,1e-9,1e-9,1e-9,1e-9,1e-9,1e-9,1e-9,4.1e-5,7e-5,1.1e-4,1.6e-4,2.1e-4,4.2e-4,5.6e-4,1.5e-3,2.2e-3,6e-3,8e-3,2.5e-2,0.15],
 [1e-9,1.6e-5,1.6e-5,2e-5,2e-5,2.3e-5,2.3e-5,8.1e-5,8.1e-5,1.6e-4,2.1e-4,2.1e-4,3.7e-4,7.4e-4,7.4e-4,1.8e-3,2.6e-3,6e-3,9e-3,3e-2,0.3],
 [1e-9,1e-9,1e-9,1e-9,1.4e-5,1.4e-5,1.2e-4,1.2e-4,1.2e-4,2.1e-4,2.8e-4,2.8e-4,2.8e-4,5.6e-4,7.4e-4,1.6e-3,2.2e-3,5e-3,7e-3,2.2e-2,0.2],
 [1e-9,1.2e-5,1.2e-5,3.1e-5,4.1e-5,4.1e-5,9.4e-5,9.4e-5,9.4e-5,1.6e-4,2.1e-4,2.8e-4,2.8e-4,5.6e-4,5.6e-4,1.5e-3,2e-3,5e-3,7e-3,2.2e-2,0.2],
 [1e-9,2.5e-5,2.5e-5,6e-5,6e-5,6e-5,1.05e-4,1.05e-4,1.05e-4,2.1e-4,2.8e-4,2.8e-4,3.7e-4,5.6e-4,7.4e-4,1.8e-3,2.4e-3,6e-3,9e-3,2.8e-2,0.3],
 [1e-9,1.2e-5,1.2e-5,1.2e-5,1.2e-5,3.6e-5,3.6e-5,8.1e-5,8.1e-5,1.1e-4,1.6e-4,1.6e-4,2.1e-4,4.2e-4,5.6e-4,1.4e-3,1.8e-3,4.5e-3,6.9e-3,2e-2,0.15],
 [1e-9,5e-5,5e-5,8.6e-5,8.6e-5,1.6e-4,1.6e-4,1.6e-4,1.6e-4,2.8e-4,3.7e-4,3.7e-4,3.7e-4,7.4e-4,7.4e-4,2e-3,2.6e-3,6.9e-3,1e-2,3e-2,0.4],
 [1e-9,1.6e-5,1.6e-5,2.3e-5,2.3e-5,6e-5,6e-5,6e-5,8.1e-5,1.6e-4,2.1e-4,2.1e-4,2.8e-4,4.2e-4,5.6e-4,1.6e-3,2e-3,5e-3,7e-3,2.2e-2,0.2],
 [1e-9,3.6e-5,3.6e-5,5.2e-5,5.2e-5,8.6e-5,8.6e-5,1.2e-4,1.2e-4,2.1e-4,2.8e-4,2.8e-4,3.7e-4,5.6e-4,7.4e-4,1.8e-3,2.2e-3,6e-3,8e-3,2.5e-2,0.25]
];

// Model 5
const m5Ranks = [0,2200,4300,21700,33400,40300,46400,60700,104100,112700,117100,158300,188600,216800,232000,279700,307900,366400,401100,425000,451000,472700,487900,494400,498800,500800];
const m5Runs = [
 [1e-8,1e-8,5.5e-5,5.5e-5,1.5e-4,1.5e-4,1.5e-4,1.5e-4,1.5e-4,2.3e-4,2.3e-4,2.3e-4,2.3e-4,2.3e-4,3.1e-4,3.1e-4,4.2e-4,4.2e-4,7.6e-4,7.6e-4,1.7e-3,1.7e-3,1.7e-3,6e-3,1.3e-2,0.8],
 [1e-8,1.8e-4,1.8e-4,1.8e-4,1.8e-4,1.8e-4,2.05e-4,2.05e-4,2.05e-4,2.05e-4,2.7e-4,2.7e-4,2.7e-4,2.7e-4,3.7e-4,3.7e-4,5e-4,5e-4,1.03e-3,1.03e-3,2.1e-3,2.1e-3,2.1e-3,7e-3,1.5e-2,0.5],
 [1e-8,1.23e-4,1.23e-4,1.23e-4,1.23e-4,1.4e-4,1.4e-4,1.4e-4,1.4e-4,2.3e-4,2.3e-4,2.3e-4,2.3e-4,2.3e-4,3.1e-4,3.1e-4,3.4e-4,3.4e-4,5.6e-4,5.6e-4,1.4e-3,1.7e-3,1.7e-3,5e-3,1e-2,0.3],
 [1e-8,1e-4,1e-4,1e-4,1e-4,1.07e-4,1.07e-4,1.07e-4,1.07e-4,1.8e-4,1.8e-4,1.8e-4,1.8e-4,2.3e-4,2.5e-4,2.5e-4,2.8e-4,3.4e-4,4.4e-4,7.6e-4,1.15e-3,1.4e-3,1.4e-3,4e-3,9e-3,0.2],
 [1e-8,8.2e-5,8.2e-5,8.2e-5,8.2e-5,8.2e-5,1.7e-4,1.7e-4,1.7e-4,1.7e-4,2.7e-4,2.7e-4,3.4e-4,3.4e-4,3.7e-4,3.7e-4,4.2e-4,5e-4,1.3e-3,1.3e-3,2.6e-3,2.6e-3,2.6e-3,8e-3,2e-2,0.7],
 [1e-8,1e-8,1e-8,6.6e-5,6.6e-5,6.6e-5,6.6e-5,1.4e-4,1.4e-4,1.4e-4,1.4e-4,1.8e-4,1.8e-4,1.8e-4,2.5e-4,2.5e-4,2.8e-4,2.8e-4,4.4e-4,5.6e-4,1.15e-3,1.15e-3,1.4e-3,5e-3,1.1e-2,0.4],
 [1e-8,1.5e-4,1.5e-4,1.5e-4,1.5e-4,2.5e-4,2.5e-4,2.5e-4,2.5e-4,2.5e-4,3.4e-4,3.4e-4,3.4e-4,3.4e-4,4.4e-4,4.4e-4,6.3e-4,6.3e-4,1.03e-3,1.3e-3,2.1e-3,2.1e-3,2.1e-3,8e-3,1.5e-2,0.6],
 [1e-8,1e-8,1e-8,1e-8,1e-8,6.3e-5,6.3e-5,6.3e-5,8.2e-5,1.5e-4,1.5e-4,1.5e-4,1.5e-4,1.8e-4,2.2e-4,2.2e-4,2.4e-4,2.8e-4,3.5e-4,4.4e-4,1.15e-3,1.15e-3,1.4e-3,4.5e-3,1e-2,0.3],
 [1e-8,1e-8,6.6e-5,6.6e-5,6.6e-5,2.05e-4,2.05e-4,2.05e-4,2.05e-4,2.05e-4,2.3e-4,2.7e-4,2.7e-4,3.1e-4,3.1e-4,3.7e-4,4.2e-4,4.2e-4,7.6e-4,1.03e-3,1.7e-3,2.1e-3,2.1e-3,6e-3,1.2e-2,0.5],
 [1e-8,1e-4,1e-4,1e-4,1.23e-4,1.23e-4,1.23e-4,1.7e-4,1.7e-4,1.7e-4,1.8e-4,2.3e-4,2.3e-4,2.7e-4,2.7e-4,3.1e-4,3.4e-4,4.2e-4,5.6e-4,1.03e-3,1.4e-3,1.4e-3,1.7e-3,5e-3,1.1e-2,0.4],
 [1e-8,1.23e-4,1.23e-4,1.23e-4,1.5e-4,1.5e-4,1.7e-4,1.7e-4,1.7e-4,2.3e-4,2.3e-4,2.5e-4,2.5e-4,2.7e-4,3.4e-4,3.4e-4,4.2e-4,4.2e-4,6.3e-4,7.6e-4,1.4e-3,1.7e-3,1.7e-3,6e-3,1.2e-2,0.5],
 [1e-8,1e-8,8.2e-5,8.2e-5,8.2e-5,1.4e-4,1.4e-4,1.4e-4,1.4e-4,1.8e-4,1.8e-4,2.3e-4,2.3e-4,2.3e-4,3.1e-4,3.1e-4,3.7e-4,3.7e-4,5e-4,6.3e-4,1.15e-3,1.4e-3,1.4e-3,5e-3,1e-2,0.3],
 [1e-8,1.5e-4,1.5e-4,1.5e-4,1.5e-4,1.7e-4,1.7e-4,2.05e-4,2.05e-4,2.7e-4,2.7e-4,2.7e-4,3.1e-4,3.1e-4,3.7e-4,3.7e-4,4.4e-4,5e-4,7.6e-4,1.03e-3,1.7e-3,2.1e-3,2.1e-3,7e-3,1.4e-2,0.6],
 [1e-8,1e-8,1e-8,1.07e-4,1.07e-4,1.07e-4,1.23e-4,1.23e-4,1.5e-4,2.05e-4,2.05e-4,2.05e-4,2.3e-4,2.7e-4,2.7e-4,3.1e-4,3.4e-4,3.7e-4,5.6e-4,7.6e-4,1.15e-3,1.4e-3,1.7e-3,5e-3,1.1e-2,0.4],
 [1e-8,6.6e-5,6.6e-5,6.6e-5,1e-4,1e-4,1.23e-4,1.23e-4,1.5e-4,1.8e-4,2.05e-4,2.05e-4,2.05e-4,2.3e-4,2.8e-4,3.1e-4,3.4e-4,4.2e-4,4.4e-4,5.6e-4,1.3e-3,1.7e-3,1.7e-3,5.5e-3,1.2e-2,0.5],
 [1e-8,1.8e-4,1.8e-4,1.8e-4,1.8e-4,2.05e-4,2.05e-4,2.05e-4,2.05e-4,2.3e-4,3.1e-4,3.1e-4,3.1e-4,3.4e-4,4.2e-4,4.2e-4,5e-4,5.6e-4,1.03e-3,1.3e-3,2.1e-3,2.1e-3,2.6e-3,8e-3,1.6e-2,0.7]
];

// ---------------- LAYOUT / STYLE ----------------
const colLeft = [77, 529, 982], colWidth = [387, 388, 387];
const rowTop = [4, 463, 923], rowHeight = 399;
const SERIF = 'Liberation Serif', SANS = 'DejaVu Sans';
const runOpacity = [0.4, 0.35, 0.35, 0.38, 0.38, 0.4, 0.5, 0.4, 0.38];

const panels = [
  {ranks: m0Ranks, runs: m0Runs, xt: xTicks0},
  {ranks: m1Ranks, runs: m1Runs, xt: xTicks1},
  {ranks: m2aRanks, runs: m2aRuns, xt: xTicks2a},
  {ranks: m2bRanks, runs: m2bRuns, xt: xTicksZero},
  {ranks: m3aRanks, runs: m3aRuns, xt: xTicksZero},
  {ranks: m3bRanks, runs: m3bRuns, xt: xTicksZero},
  {ranks: m3cRanks, runs: m3cRuns, xt: xTicksZero},
  {ranks: m4Ranks, runs: m4Runs, xt: xTicks4},
  {ranks: m5Ranks, runs: m5Runs, xt: xTicksZero}
];

function logTicks(min, max, mults) {
  const out = [];
  for (let k = Math.floor(Math.log10(min)); k <= Math.ceil(Math.log10(max)); k++) {
    mults.forEach(m => {
      const v = parseFloat((m * Math.pow(10, k)).toPrecision(6));
      if (v >= min && v <= max) out.push(v);
    });
  }
  return out;
}
function supLabel(v) {
  const e = Math.round(Math.log10(v));
  return '{b|10}{s|' + (e < 0 ? '\u2212' + (-e) : String(e)) + '}{z| }';
}
const richSup = {
  b: {fontFamily: SERIF, fontSize: 18, color: '#000', verticalAlign: 'bottom', lineHeight: 18},
  s: {fontFamily: SERIF, fontSize: 13, color: '#000', verticalAlign: 'top', lineHeight: 13},
  z: {fontSize: 1, lineHeight: 22}
};
const lineBlack = {color: '#000', width: 1};

const grids = [], xAxes = [], yAxes = [], series = [];
panels.forEach((p, i) => {
  const col = i % 3, row = Math.floor(i / 3);
  grids.push({left: colLeft[col], top: rowTop[row], width: colWidth[col], height: rowHeight});
  const [xmin, xmax] = xRanges[i], [ymin, ymax] = yRanges[i];
  const majors = logTicks(ymin, ymax, [1]);
  const minors = logTicks(ymin, ymax, [2,3,4,5,6,7,8,9]);
  const xi = xAxes.length;
  xAxes.push({
    gridIndex: i, type: 'value', min: xmin, max: xmax, position: 'bottom',
    axisLine: {show: true, onZero: false, lineStyle: lineBlack},
    axisTick: {show: true, inside: true, length: 5, customValues: p.xt, lineStyle: lineBlack},
    axisLabel: {show: true, customValues: p.xt, fontFamily: SERIF, fontSize: 18, color: '#000', margin: 6, formatter: v => String(v)},
    splitLine: {show: false},
    name: panelTitles[i], nameLocation: 'middle', nameGap: 28,
    nameTextStyle: {fontFamily: SANS, fontSize: 18, color: '#000'}
  });
  xAxes.push({
    gridIndex: i, type: 'value', min: xmin, max: xmax, position: 'top',
    axisLine: {show: true, onZero: false, lineStyle: lineBlack},
    axisTick: {show: true, inside: true, length: 5, customValues: p.xt, lineStyle: lineBlack},
    axisLabel: {show: false}, splitLine: {show: false}
  });
  const yi = yAxes.length;
  const yBase = {gridIndex: i, type: 'log', logBase: 10, min: ymin, max: ymax, splitLine: {show: false}, minorTick: {show: false}};
  const left = Object.assign({}, yBase, {
    position: 'left',
    axisLine: {show: true, onZero: false, lineStyle: lineBlack},
    axisTick: {show: true, inside: true, length: 5, customValues: majors, lineStyle: lineBlack},
    axisLabel: {show: true, customValues: majors, margin: 6, formatter: supLabel, rich: richSup}
  });
  if (col === 0) {
    left.name = '{i|p}(Lens|Classifier score)';
    left.nameLocation = 'middle';
    left.nameGap = 46;
    left.nameTextStyle = {fontFamily: SERIF, fontSize: 22, color: '#000',
      rich: {i: {fontFamily: SERIF, fontStyle: 'italic', fontSize: 22, color: '#000'}}};
  }
  yAxes.push(left);
  yAxes.push(Object.assign({}, yBase, {
    position: 'left', axisLine: {show: false, onZero: false},
    axisTick: {show: true, inside: true, length: 2.5, customValues: minors, lineStyle: lineBlack},
    axisLabel: {show: false}
  }));
  yAxes.push(Object.assign({}, yBase, {
    position: 'right', axisLine: {show: true, onZero: false, lineStyle: lineBlack},
    axisTick: {show: true, inside: true, length: 5, customValues: majors, lineStyle: lineBlack},
    axisLabel: {show: false}
  }));
  yAxes.push(Object.assign({}, yBase, {
    position: 'right', axisLine: {show: false, onZero: false},
    axisTick: {show: true, inside: true, length: 2.5, customValues: minors, lineStyle: lineBlack},
    axisLabel: {show: false}
  }));
  p.runs.forEach(run => {
    series.push({
      type: 'line', xAxisIndex: xi, yAxisIndex: yi, step: 'end',
      showSymbol: false, symbol: 'none', clip: true, silent: true, z: 2,
      data: p.ranks.map((r, k) => [r, run[k]]),
      lineStyle: {color: panelColors[i], width: 1.3, opacity: runOpacity[i]}
    });
  });
});

const chart = echarts.init(document.getElementById('c'), null, {renderer: 'canvas'});
chart.setOption({
  backgroundColor: '#fff',
  animation: false,
  grid: grids, xAxis: xAxes, yAxis: yAxes, series: series
});
</script></body></html>
